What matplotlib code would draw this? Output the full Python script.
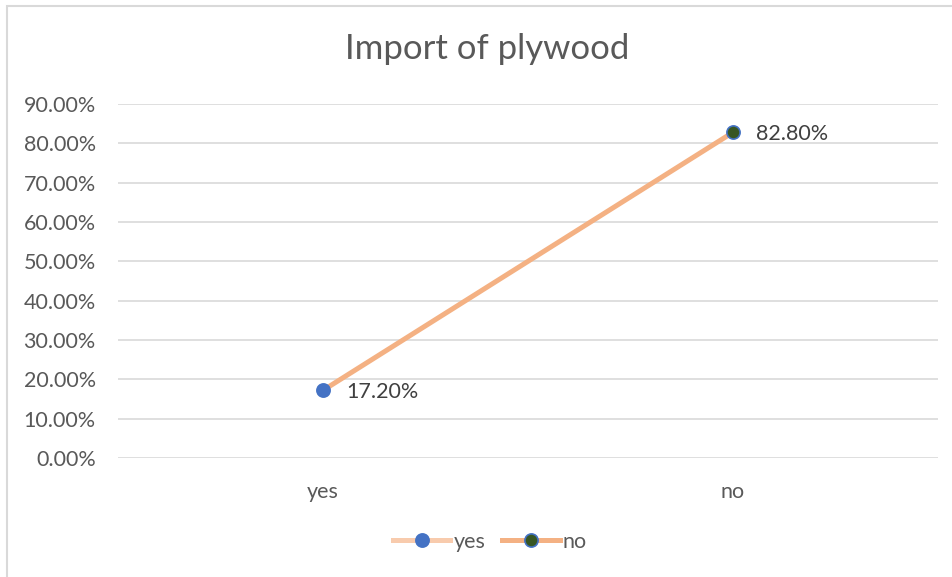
import matplotlib.pyplot as plt
from matplotlib.lines import Line2D
from matplotlib.patches import Rectangle
from matplotlib.ticker import FuncFormatter

# survey answers and their shares
categories = ['yes', 'no']
shares = [0.172, 0.828]
point_labels = ['17.20%', '82.80%']
y_ticks = [0.0, 0.1, 0.2, 0.3, 0.4, 0.5, 0.6, 0.7, 0.8, 0.9]

text_col = '#595959'
grid_col = '#d9d9d9'
line_cols = ['#f8cbad', '#f4b183']
marker_faces = ['#4472c4', '#375623']
marker_edge = '#4472c4'
fs = 15.5

plt.rcParams['font.family'] = ['Lato', 'DejaVu Sans']

W, H = 952, 577
fig = plt.figure(figsize=(W / 100, H / 100), dpi=100)
# chart frame, only its left and top edges fall inside the image
fig.patches.append(Rectangle((6.5 / W, -0.5), 2, 1.5 - 5.5 / H, transform=fig.transFigure,
                             fill=False, edgecolor=grid_col, linewidth=1.5))

ax = fig.add_axes([118 / W, 119 / H, 820 / W, 354 / H])
x = list(range(len(categories)))

# connecting segment takes the colour of the second point
ax.plot(x, shares, color=line_cols[1], linewidth=3.6, solid_capstyle='round', zorder=3)
for i in x:
    ax.plot(x[i], shares[i], 'o', markersize=9.5, markerfacecolor=marker_faces[i],
            markeredgecolor=marker_edge, markeredgewidth=1.2, zorder=4)
    ax.annotate(point_labels[i], (x[i], shares[i]), xytext=(16.5, -1), textcoords='offset points',
                va='center', ha='left', fontsize=fs, color='#404040')

ax.set_xlim(-0.5, 1.5)
ax.set_ylim(0, 0.9)
ax.set_yticks(y_ticks)
ax.yaxis.set_major_formatter(FuncFormatter(lambda v, p: '%.2f%%' % (v * 100)))
ax.set_xticks(x)
ax.set_xticklabels(categories)
ax.tick_params(axis='both', length=0, labelsize=fs, labelcolor=text_col)
ax.tick_params(axis='y', pad=16)
ax.tick_params(axis='x', pad=17)
ax.grid(axis='y', color=grid_col, linewidth=1.2)
ax.set_axisbelow(True)
for s in ax.spines.values():
    s.set_visible(False)

fig.text(487 / W, 1 - 49 / H, 'Import of plywood', ha='center', va='center',
         fontsize=25, color=text_col)

handles = [Line2D([0], [0], color=line_cols[i], linewidth=3.6, marker='o', markersize=9.5,
                  markerfacecolor=marker_faces[i], markeredgecolor=marker_edge,
                  markeredgewidth=1.2) for i in x]
fig.legend(handles, categories, loc='center', bbox_to_anchor=(490 / W, 1 - 542 / H),
           ncol=2, frameon=False, fontsize=fs, labelcolor=text_col, handlelength=2.65,
           handletextpad=0.15, columnspacing=0.8)

fig.savefig('out.png', dpi=100, facecolor='white')
